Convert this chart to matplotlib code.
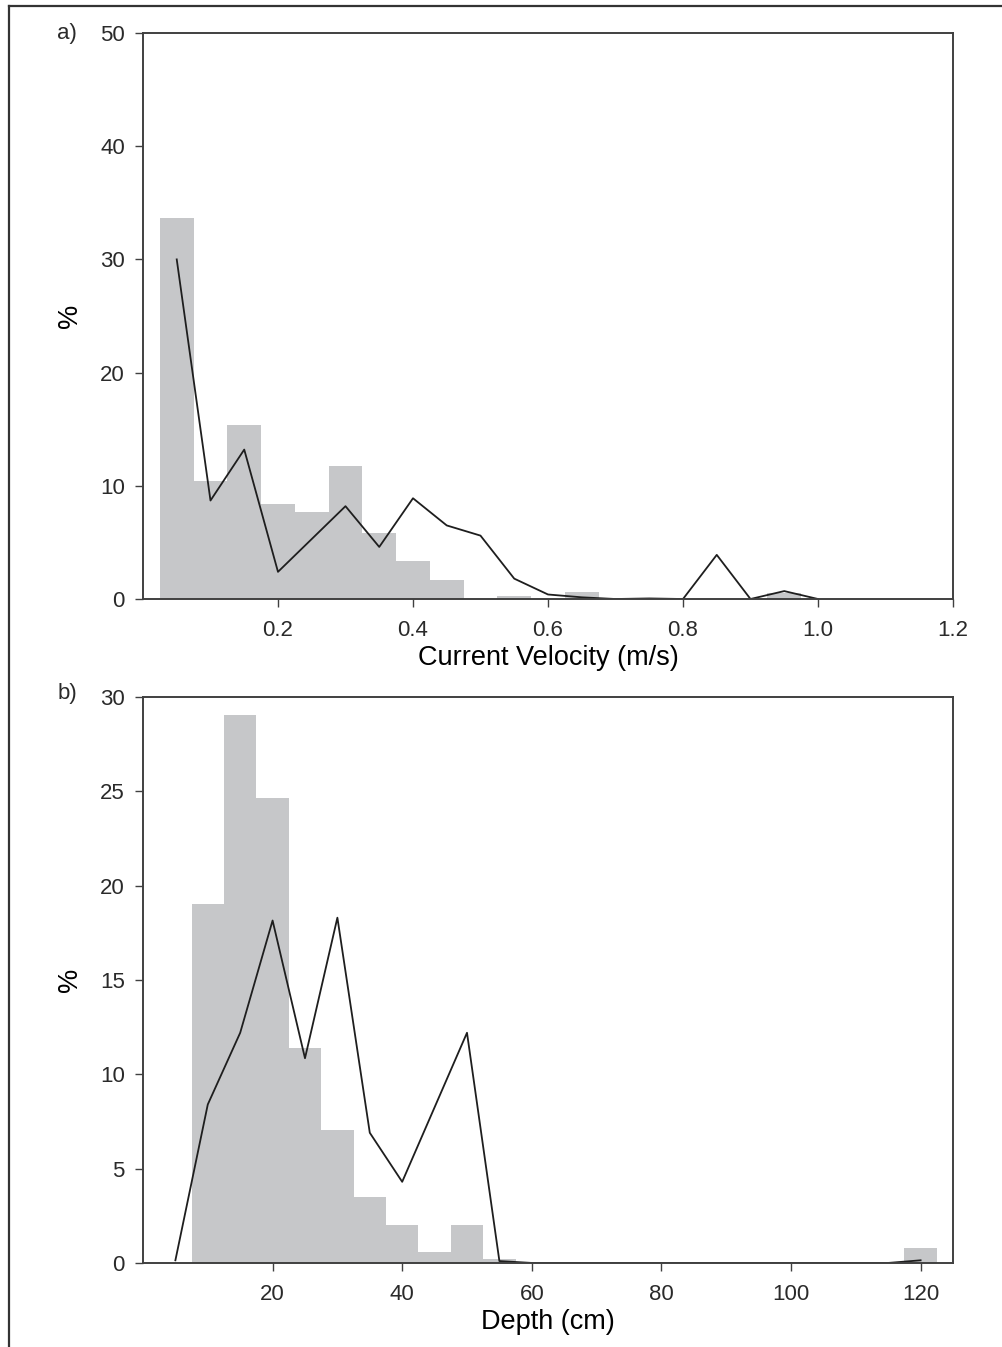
import numpy as np
import matplotlib
matplotlib.use("Agg")
import matplotlib.pyplot as plt
from matplotlib.lines import Line2D

plt.rcParams["font.family"] = ["Liberation Sans", "DejaVu Sans"]

# --- a) current velocity (m/s) ---
vel_bar_x = [0.05, 0.10, 0.15, 0.20, 0.25, 0.30, 0.35, 0.40, 0.45, 0.50,
             0.55, 0.60, 0.65, 0.70, 0.75, 0.80, 0.85, 0.90, 0.95]
vel_bar_pct = [33.7, 10.4, 15.4, 8.4, 7.7, 11.75, 5.8, 3.4, 1.7, 0.0,
               0.3, 0.0, 0.6, 0.0, 0.0, 0.0, 0.0, 0.0, 0.55]
vel_line_x = [0.05, 0.10, 0.15, 0.20, 0.25, 0.30, 0.35, 0.40, 0.45, 0.50,
              0.55, 0.60, 0.65, 0.70, 0.75, 0.80, 0.85, 0.90, 0.95, 1.00]
vel_line_pct = [30.0, 8.7, 13.2, 2.4, 5.3, 8.2, 4.6, 8.9, 6.5, 5.6,
                1.8, 0.4, 0.15, 0.0, 0.05, 0.0, 3.9, 0.0, 0.7, 0.0]

# --- b) depth (cm) ---
dep_bar_x = [10, 15, 20, 25, 30, 35, 40, 45, 50, 55, 120]
dep_bar_pct = [19.0, 29.05, 24.66, 11.41, 7.06, 3.49, 1.99, 0.56, 1.99, 0.21, 0.79]
dep_line_x = [5, 10, 15, 20, 25, 30, 35, 40, 45, 50, 55, 60, 65, 70, 75, 80,
              85, 90, 95, 100, 105, 110, 115, 120]
dep_line_pct = [0.14, 8.4, 12.2, 18.15, 10.85, 18.3, 6.9, 4.3, 8.25, 12.2, 0.1, 0.0,
                0.0, 0.0, 0.0, 0.0, 0.0, 0.0, 0.0, 0.0, 0.0, 0.0, 0.0, 0.14]

BAR_C = "#c6c7c9"
LINE_C = "#1e1e1e"
SPINE_C = "#404040"

fig = plt.figure(figsize=(10.02, 13.47), dpi=100)
ax1 = fig.add_axes([0.1427, 0.5553, 0.8084, 0.4202])
ax2 = fig.add_axes([0.1427, 0.0624, 0.8084, 0.4202])

ax1.bar(vel_bar_x, vel_bar_pct, width=0.05, color=BAR_C, linewidth=0)
ax1.plot(vel_line_x, vel_line_pct, color=LINE_C, linewidth=1.3)
ax1.set_xlim(0, 1.2)
ax1.set_ylim(0, 50)
ax1.set_xticks([0.2, 0.4, 0.6, 0.8, 1.0, 1.2])
ax1.set_yticks(range(0, 51, 10))
ax1.set_xlabel("Current Velocity (m/s)", fontsize=19.5, labelpad=3)
ax1.set_ylabel("%", fontsize=19.5, labelpad=12)

ax2.bar(dep_bar_x, dep_bar_pct, width=5, color=BAR_C, linewidth=0)
ax2.plot(dep_line_x, dep_line_pct, color=LINE_C, linewidth=1.3)
ax2.set_xlim(0, 125)
ax2.set_ylim(0, 30)
ax2.set_xticks(range(20, 121, 20))
ax2.set_yticks(range(0, 31, 5))
ax2.set_xlabel("Depth (cm)", fontsize=19.5, labelpad=3)
ax2.set_ylabel("%", fontsize=19.5, labelpad=12)

for ax in (ax1, ax2):
    for s in ax.spines.values():
        s.set_color(SPINE_C)
        s.set_linewidth(1.4)
    ax.tick_params(direction="out", length=6, width=1, color=SPINE_C,
                   labelsize=16, labelcolor="#2a2a2a", pad=7)
    ax.tick_params(axis="x", pad=9)

fig.text(57 / 1002, 1 - 33 / 1347, "a)", fontsize=16, va="center", ha="left", color="#2a2a2a")
fig.text(58 / 1002, 1 - 693 / 1347, "b)", fontsize=16, va="center", ha="left", color="#2a2a2a")

# partial outer frame (top and left)
fig.add_artist(Line2D([9 / 1002, 1], [1 - 5.5 / 1347] * 2, transform=fig.transFigure,
                      color="#333333", linewidth=1.6))
fig.add_artist(Line2D([9 / 1002] * 2, [0, 1 - 5.5 / 1347], transform=fig.transFigure,
                      color="#333333", linewidth=1.6))

fig.savefig("out.png", dpi=100)
